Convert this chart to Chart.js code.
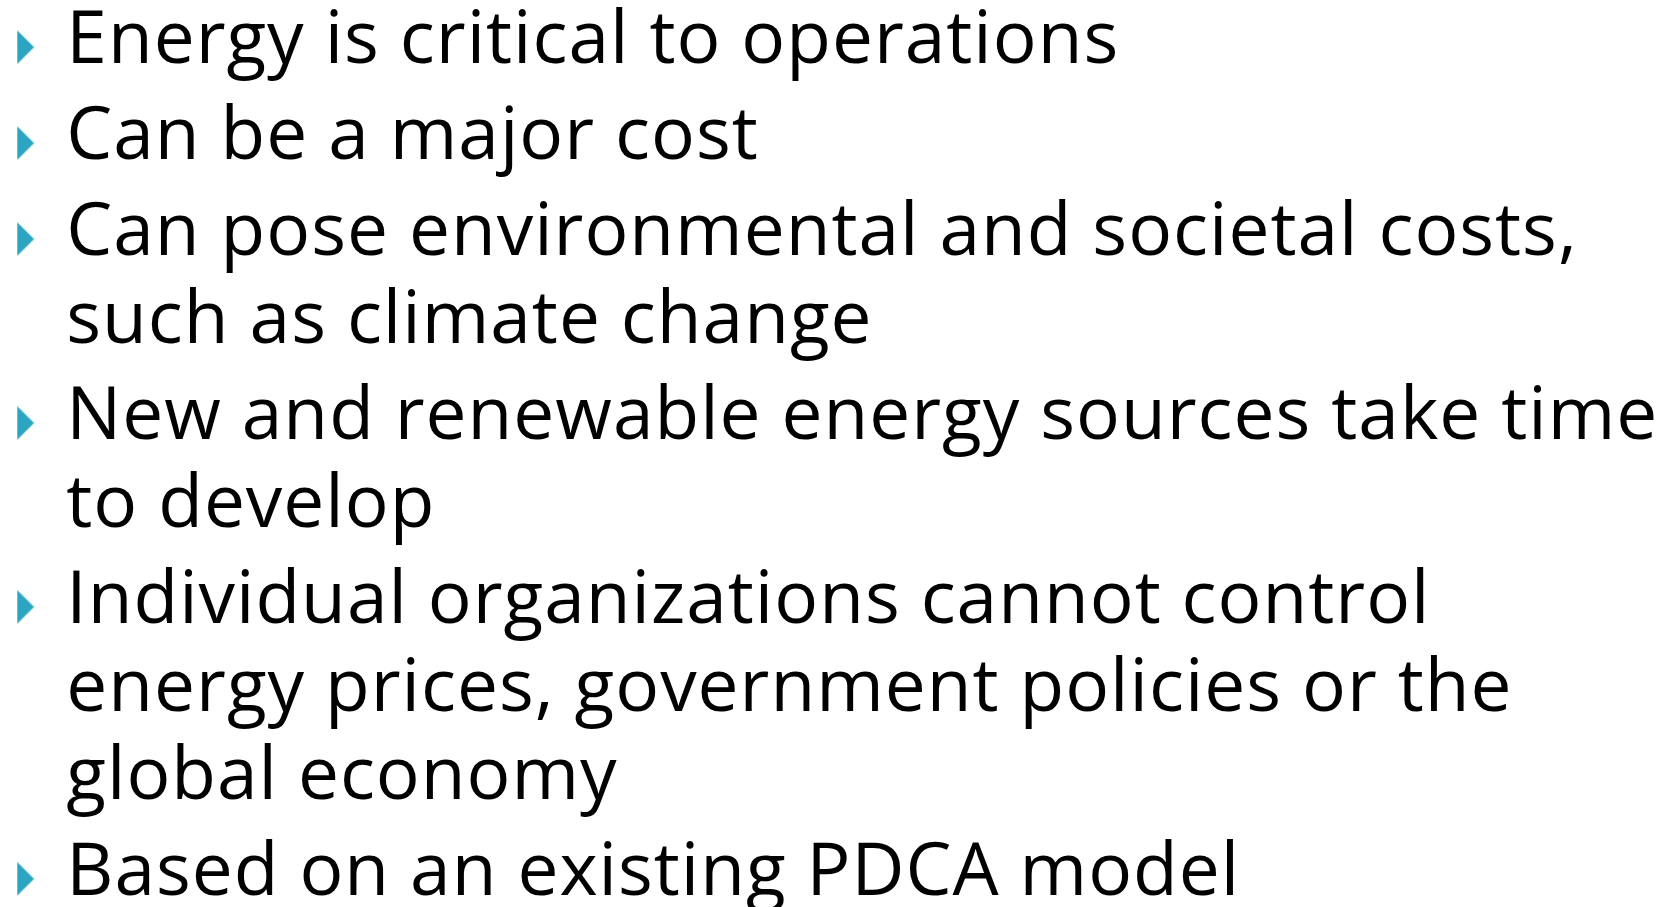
<!DOCTYPE html>
<html>
<head>
<meta charset="utf-8">
<title>Energy</title>
<script src="https://cdn.jsdelivr.net/npm/chart.js@4/dist/chart.umd.min.js"></script>
<style>
    html, body { margin: 0; padding: 0; background: #ffffff; overflow: hidden; }
    canvas { display: block; }
</style>
</head>
<body>
<canvas id="slideCanvas" width="1663" height="907"></canvas>
<script>
// slide content: one array of wrapped lines per bullet
const bulletLines = [
    ["Energy is critical to operations"],
    ["Can be a major cost"],
    ["Can pose environmental and societal costs,", "such as climate change"],
    ["New and renewable energy sources take time", "to develop"],
    ["Individual organizations cannot control", "energy prices, government policies or the", "global economy"],
    ["Based on an existing PDCA model"]
];
const lineStep = 1;       // wrapped line inside one bullet
const bulletStep = 1.09;  // first line of the next bullet
const textIndent = 1.6;   // text column, in bullet-column units
const bulletColor = "#2ca5c0";

document.addEventListener("DOMContentLoaded", function () {
    // work out line positions (in line units) from the structure above
    const bulletPoints = [];
    const textPoints = [];
    let y = 0;
    bulletLines.forEach(function (lines, i) {
        if (i > 0) y += bulletStep;
        lines.forEach(function (line, j) {
            if (j > 0) y += lineStep;
            if (j === 0) bulletPoints.push({ x: 0, y: y - 0.18 });
            textPoints.push({ x: textIndent, y: y, label: line });
        });
    });

    // triangle bullet marker
    const marker = document.createElement("canvas");
    marker.width = 18;
    marker.height = 35;
    const mctx = marker.getContext("2d");
    mctx.fillStyle = bulletColor;
    mctx.beginPath();
    mctx.moveTo(0.5, 0.5);
    mctx.lineTo(17.5, 17.5);
    mctx.lineTo(0.5, 34.5);
    mctx.closePath();
    mctx.fill();

    const textFont = "73px 'Open Sans', sans-serif";

    const lineText = {
        id: "lineText",
        afterDatasetsDraw(chart) {
            const meta = chart.getDatasetMeta(1);
            const ctx = chart.ctx;
            ctx.save();
            ctx.fillStyle = "#000000";
            ctx.font = textFont;
            ctx.letterSpacing = "1px";
            ctx.textAlign = "left";
            ctx.textBaseline = "alphabetic";
            meta.data.forEach(function (pt, i) {
                ctx.fillText(textPoints[i].label, pt.x, pt.y);
            });
            ctx.restore();
        }
    };

    const ctx = document.getElementById("slideCanvas").getContext("2d");

    new Chart(ctx, {
        type: "scatter",
        data: {
            datasets: [{
                label: "bullets",
                data: bulletPoints,
                pointStyle: marker,
                pointRadius: 9
            }, {
                label: "lines",
                data: textPoints,
                pointRadius: 0
            }]
        },
        options: {
            responsive: false,
            animation: false,
            devicePixelRatio: 1,
            events: [],
            layout: { padding: 0, autoPadding: false },
            plugins: {
                legend: { display: false },
                tooltip: { enabled: false }
            },
            scales: {
                x: { type: "linear", display: false, min: -1, max: 64.2 },
                y: { type: "linear", display: false, reverse: true, min: -0.716, max: 9.59 }
            }
        },
        plugins: [lineText]
    });
});
</script>
</body>
</html>
